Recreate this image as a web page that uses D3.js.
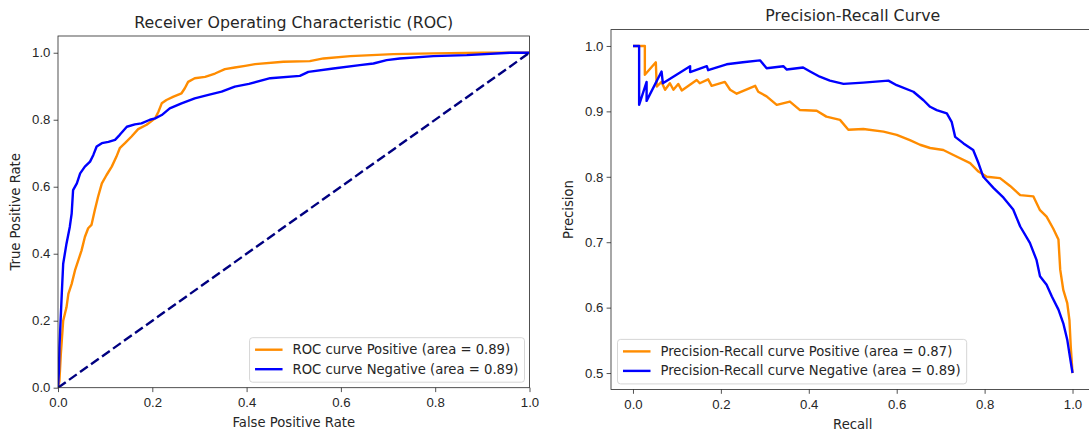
<!DOCTYPE html>
<html lang="en">
<head>
<meta charset="UTF-8">
<title>ROC and Precision-Recall</title>
<script src="https://d3js.org/d3.v7.min.js"></script>
<style>
    body { margin: 0; background: #fff; }
    svg { display: block; font-family: "DejaVu Sans", sans-serif; }
    .tick text { font-size: 13.2px; fill: #262626; }
    .tick line { stroke: #262626; stroke-width: 0.8; }
</style>
</head>
<body>
<svg id="chart" width="1089" height="432"></svg>
<script>

// ROC curves
const rocPosFpr = [0, 0.003, 0.006, 0.008, 0.011, 0.018, 0.022, 0.029, 0.036, 0.043, 0.05, 0.057, 0.064, 0.071, 0.078, 0.085, 0.093, 0.103, 0.114, 0.124, 0.131, 0.142, 0.156, 0.17, 0.188, 0.206, 0.213, 0.22, 0.23, 0.245, 0.262, 0.269, 0.276, 0.29, 0.312, 0.333, 0.354, 0.375, 0.397, 0.418, 0.478, 0.534, 0.563, 0.62, 0.711, 0.796, 0.902, 1.0];
const rocPosTpr = [0, 0.02, 0.1, 0.14, 0.2, 0.24, 0.28, 0.31, 0.35, 0.38, 0.41, 0.45, 0.476, 0.486, 0.53, 0.57, 0.61, 0.635, 0.66, 0.69, 0.715, 0.73, 0.75, 0.772, 0.785, 0.804, 0.824, 0.849, 0.859, 0.869, 0.879, 0.894, 0.913, 0.924, 0.928, 0.938, 0.951, 0.956, 0.961, 0.966, 0.973, 0.975, 0.983, 0.99, 0.996, 0.998, 1.0, 1.0];
const rocNegFpr = [0, 0.002, 0.003, 0.008, 0.011, 0.018, 0.025, 0.029, 0.032, 0.04, 0.047, 0.057, 0.068, 0.075, 0.082, 0.093, 0.107, 0.121, 0.131, 0.146, 0.163, 0.177, 0.195, 0.206, 0.22, 0.237, 0.262, 0.29, 0.319, 0.347, 0.375, 0.405, 0.45, 0.513, 0.531, 0.584, 0.64, 0.669, 0.697, 0.725, 0.796, 0.867, 0.959, 1.0];
const rocNegTpr = [0, 0.05, 0.12, 0.28, 0.37, 0.43, 0.48, 0.52, 0.59, 0.61, 0.64, 0.66, 0.675, 0.695, 0.72, 0.73, 0.734, 0.74, 0.755, 0.779, 0.786, 0.789, 0.8, 0.804, 0.814, 0.834, 0.849, 0.864, 0.874, 0.884, 0.899, 0.907, 0.924, 0.931, 0.943, 0.953, 0.963, 0.968, 0.978, 0.983, 0.99, 0.993, 1.0, 1.0];
const chanceLine = [0, 1];

// precision-recall curves
const prPosRecall = [0, 0.027, 0.027, 0.052, 0.054, 0.065, 0.073, 0.084, 0.092, 0.103, 0.111, 0.145, 0.152, 0.171, 0.179, 0.209, 0.221, 0.236, 0.278, 0.285, 0.304, 0.327, 0.357, 0.38, 0.418, 0.44, 0.471, 0.49, 0.524, 0.57, 0.6, 0.63, 0.653, 0.676, 0.706, 0.736, 0.767, 0.786, 0.805, 0.835, 0.858, 0.881, 0.911, 0.926, 0.941, 0.956, 0.968, 0.972, 0.979, 0.988, 0.993, 0.996, 1.0];
const prPosPrecision = [1.0, 1.0, 0.956, 0.975, 0.938, 0.945, 0.933, 0.943, 0.933, 0.942, 0.932, 0.948, 0.943, 0.949, 0.939, 0.945, 0.933, 0.927, 0.939, 0.93, 0.923, 0.91, 0.915, 0.902, 0.901, 0.892, 0.887, 0.872, 0.873, 0.869, 0.864, 0.856, 0.849, 0.844, 0.841, 0.831, 0.821, 0.808, 0.8, 0.798, 0.786, 0.772, 0.77, 0.749, 0.739, 0.721, 0.704, 0.658, 0.627, 0.607, 0.581, 0.54, 0.5];
const prNegRecall = [0, 0.014, 0.014, 0.031, 0.031, 0.065, 0.068, 0.13, 0.13, 0.168, 0.171, 0.213, 0.25, 0.289, 0.304, 0.342, 0.35, 0.387, 0.403, 0.425, 0.448, 0.479, 0.524, 0.581, 0.6, 0.638, 0.661, 0.676, 0.691, 0.714, 0.725, 0.733, 0.752, 0.774, 0.786, 0.797, 0.82, 0.843, 0.865, 0.881, 0.903, 0.918, 0.926, 0.941, 0.953, 0.968, 0.979, 0.988, 0.994, 1.0];
const prNegPrecision = [1.0, 1.0, 0.91, 0.945, 0.916, 0.961, 0.943, 0.969, 0.96, 0.969, 0.963, 0.972, 0.975, 0.978, 0.966, 0.969, 0.964, 0.967, 0.961, 0.953, 0.947, 0.942, 0.944, 0.947, 0.94, 0.93, 0.917, 0.907, 0.902, 0.897, 0.884, 0.861, 0.851, 0.841, 0.821, 0.8, 0.783, 0.768, 0.75, 0.724, 0.699, 0.673, 0.648, 0.635, 0.617, 0.597, 0.576, 0.551, 0.525, 0.5];

// ticks
const rocTicks = [0, 0.2, 0.4, 0.6, 0.8, 1.0];
const recallTicks = [0, 0.2, 0.4, 0.6, 0.8, 1.0];
const precisionTicks = [0.5, 0.6, 0.7, 0.8, 0.9, 1.0];

const orange = "#ff8c00", blue = "#0000ff", navy = "#000080";
const svg = d3.select("#chart");

function drawPanel(p) {
    const x = d3.scaleLinear().domain(p.xDomain).range([p.left, p.right]);
    const y = d3.scaleLinear().domain(p.yDomain).range([p.bottom, p.top]);
    const g = svg.append("g");

    g.append("clipPath").attr("id", p.id)
        .append("rect")
        .attr("x", p.left).attr("y", p.top)
        .attr("width", p.right - p.left).attr("height", p.bottom - p.top);

    const line = d3.line().x(d => x(d[0])).y(d => y(d[1]));
    const plot = g.append("g").attr("clip-path", `url(#${p.id})`);
    p.series.forEach(s => {
        plot.append("path")
            .datum(d3.zip(s.x, s.y))
            .attr("d", line)
            .attr("fill", "none")
            .attr("stroke", s.color)
            .attr("stroke-width", 2.4)
            .attr("stroke-dasharray", s.dash || null)
            .attr("stroke-linejoin", "round");
    });

    // axes
    g.append("g")
        .attr("transform", `translate(0,${p.bottom})`)
        .call(d3.axisBottom(x).tickValues(p.xTicks).tickFormat(d3.format(".1f"))
            .tickSize(4.4).tickPadding(5.5))
        .call(a => a.select(".domain").remove());
    g.append("g")
        .attr("transform", `translate(${p.left},0)`)
        .call(d3.axisLeft(y).tickValues(p.yTicks).tickFormat(d3.format(".1f"))
            .tickSize(4.4).tickPadding(3.2))
        .call(a => a.select(".domain").remove());
    g.selectAll(".tick text").attr("font-family", null).attr("font-size", null);

    g.append("rect")
        .attr("x", p.left).attr("y", p.top)
        .attr("width", p.right - p.left).attr("height", p.bottom - p.top)
        .attr("fill", "none").attr("stroke", "#262626").attr("stroke-width", 0.8);

    const mid = (p.left + p.right) / 2;
    g.append("text").attr("x", mid).attr("y", p.top - 8.5)
        .attr("text-anchor", "middle").attr("font-size", 15.8).attr("fill", "#262626")
        .text(p.title);
    g.append("text").attr("x", mid).attr("y", p.bottom + 39.5)
        .attr("text-anchor", "middle").attr("font-size", 13.2).attr("fill", "#262626")
        .text(p.xLabel);
    g.append("text")
        .attr("transform", `translate(${p.left - 38.5},${(p.top + p.bottom) / 2}) rotate(-90)`)
        .attr("text-anchor", "middle").attr("font-size", 13.2).attr("fill", "#262626")
        .text(p.yLabel);

    // legend
    const entries = p.series.filter(s => s.label);
    const leg = g.append("g");
    const frame = leg.append("rect");
    const labels = entries.map((s, i) => {
        leg.append("line")
            .attr("x1", 5.5).attr("x2", 33).attr("y1", 12 + i * 19.5).attr("y2", 12 + i * 19.5)
            .attr("stroke", s.color).attr("stroke-width", 2.4);
        return leg.append("text")
            .attr("x", 43).attr("y", 12 + i * 19.5 + 4.6)
            .attr("font-size", 13.2).attr("fill", "#262626")
            .text(s.label);
    });
    const w = 43 + d3.max(labels, t => t.node().getComputedTextLength()) + 6;
    const h = 44.5;
    frame.attr("width", w).attr("height", h).attr("rx", 3)
        .attr("fill", "#fff").attr("fill-opacity", 0.8)
        .attr("stroke", "#cccccc").attr("stroke-width", 0.8);
    const lx = p.legendAt === "right" ? p.right - 5 - w : p.left + 6.5;
    leg.attr("transform", `translate(${lx},${p.bottom - 5.5 - h})`);
}

drawPanel({
    id: "clipRoc",
    left: 58, right: 529.5, top: 36, bottom: 387.7,
    xDomain: [0, 1], yDomain: [0, 1.05],
    xTicks: rocTicks, yTicks: rocTicks,
    title: "Receiver Operating Characteristic (ROC)",
    xLabel: "False Positive Rate", yLabel: "True Positive Rate",
    legendAt: "right",
    series: [
        { x: rocPosFpr, y: rocPosTpr, color: orange, label: "ROC curve Positive (area = 0.89)" },
        { x: rocNegFpr, y: rocNegTpr, color: blue, label: "ROC curve Negative (area = 0.89)" },
        { x: chanceLine, y: chanceLine, color: navy, dash: "9.5,4" }
    ]
});

drawPanel({
    id: "clipPr",
    left: 611, right: 1094.5, top: 29.6, bottom: 389.4,
    xDomain: [-0.05, 1.05], yDomain: [0.475, 1.025],
    xTicks: recallTicks, yTicks: precisionTicks,
    title: "Precision-Recall Curve",
    xLabel: "Recall", yLabel: "Precision",
    legendAt: "left",
    series: [
        { x: prPosRecall, y: prPosPrecision, color: orange, label: "Precision-Recall curve Positive (area = 0.87)" },
        { x: prNegRecall, y: prNegPrecision, color: blue, label: "Precision-Recall curve Negative (area = 0.89)" }
    ]
});
</script>
</body>
</html>
